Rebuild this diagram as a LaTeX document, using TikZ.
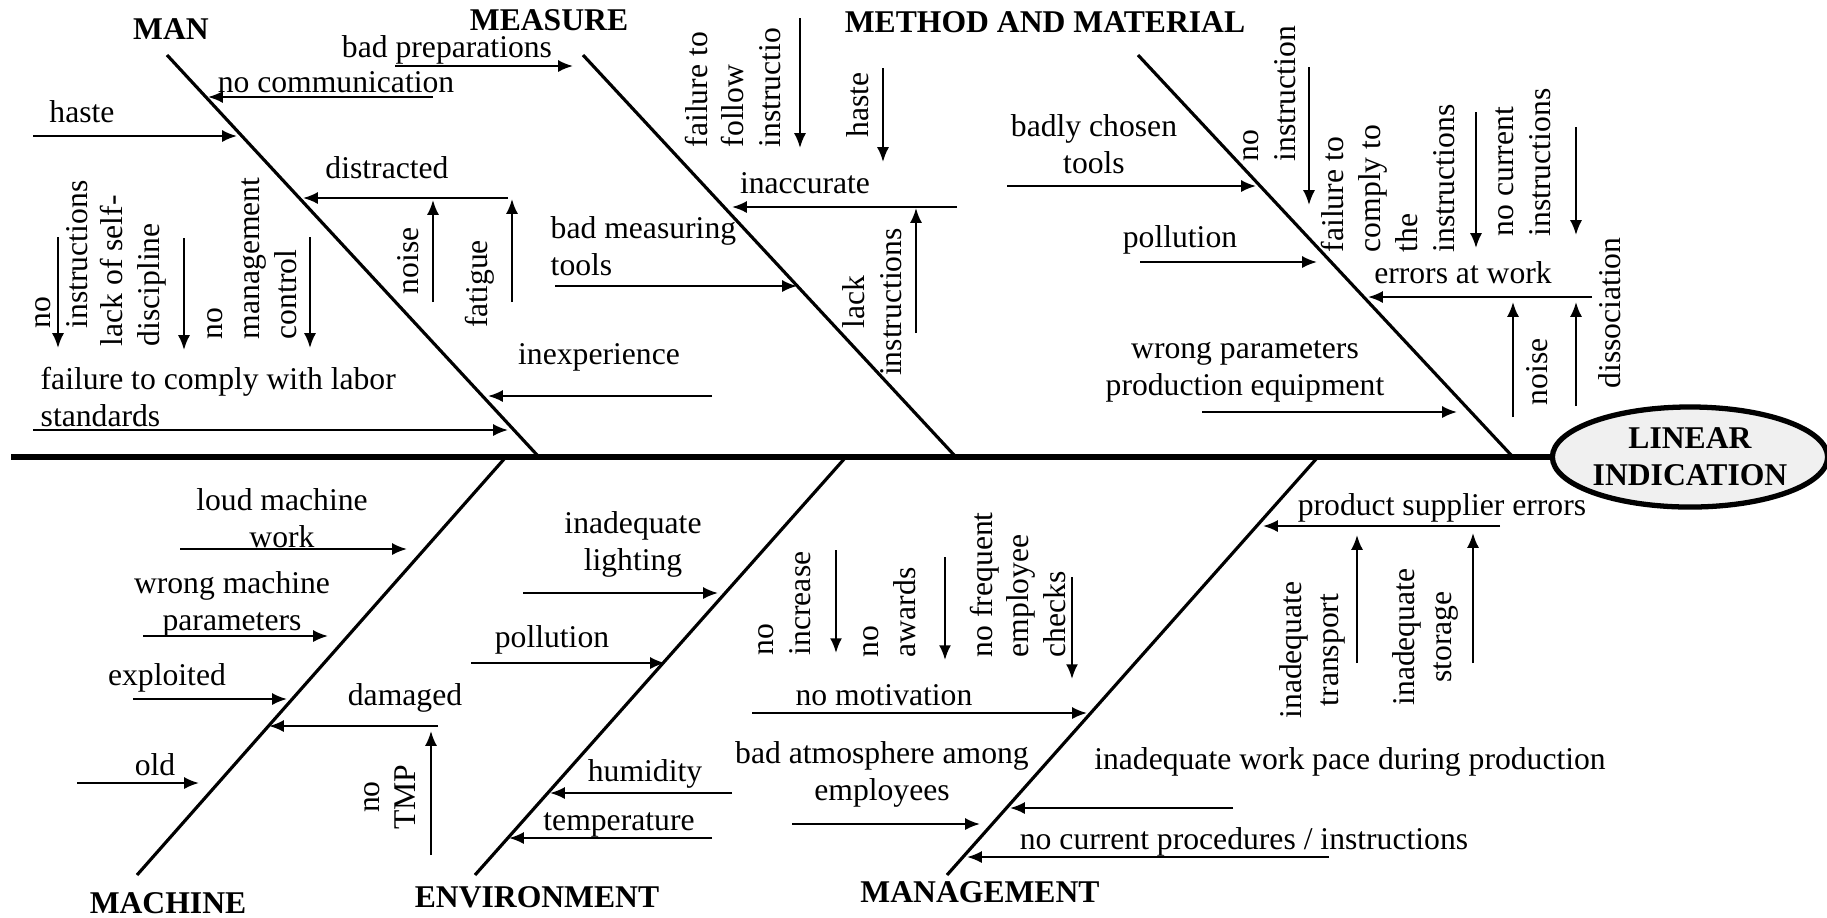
\documentclass[tikz,border=0pt]{standalone}
\usepackage{fontspec}
\setmainfont{Liberation Serif}
\usetikzlibrary{arrows.meta,shapes.geometric}
\definecolor{ellfill}{HTML}{F0F0F0}
\newcommand\fbarr[3]{\coordinate (#1s) at (#2); \coordinate (#1e) at (#3); \draw[arr] (#1s) -- (#1e);}
\begin{document}
\begin{tikzpicture}[x=0.01cm,y=-0.01cm,
  lbl/.style={inner sep=0pt, font=\fontsize{9}{10.5}\selectfont},
  ctr/.style={lbl, align=center},
  lft/.style={lbl, align=left, anchor=west},
  vl/.style={lbl, align=left, rotate=90, anchor=west},
  vc/.style={lbl, align=center, rotate=90},
  head/.style={inner sep=0pt, font=\fontsize{9}{10.5}\selectfont\bfseries},
  arr/.style={line width=0.6pt, -{Latex[length=4.2pt,width=3.4pt]}},
  bone/.style={line width=0.9pt},
  spine/.style={line width=1.5pt}]
\useasboundingbox (0,0) rectangle (1827,917);

% effect
\node[ellipse, draw, line width=1.5pt, fill=ellfill, minimum width=2.65cm, minimum height=1.0cm,
      inner sep=0pt, align=center, font=\fontsize{9}{10.5}\selectfont\bfseries] (lin) at (1690,457) {LINEAR\\INDICATION};
\coordinate (spL) at (11,457);
\draw[spine] (spL) -- (lin.west);

% bones
\coordinate (manT) at (167,55);   \coordinate (manB) at (538,456);
\coordinate (meaT) at (583,55);   \coordinate (meaB) at (955,456);
\coordinate (mmT) at (1138,55);   \coordinate (mmB) at (1512,456);
\coordinate (macB) at (137,875);  \coordinate (macT) at (505,458);
\coordinate (envB) at (475,875);  \coordinate (envT) at (845,458);
\coordinate (mgtB) at (947,875);  \coordinate (mgtT) at (1317,458);
\draw[bone] (manT) -- (manB);
\draw[bone] (meaT) -- (meaB);
\draw[bone] (mmT) -- (mmB);
\draw[bone] (macB) -- (macT);
\draw[bone] (envB) -- (envT);
\draw[bone] (mgtB) -- (mgtT);

% heads
\node[head] (hman) at (171,29) {MAN};
\node[head] (hmea) at (549,20) {MEASURE};
\node[head] (hmm) at (1045,22) {METHOD AND MATERIAL};
\node[head] (hmac) at (168,903) {MACHINE};
\node[head] (henv) at (537,897) {ENVIRONMENT};
\node[head] (hmgt) at (980,892) {MANAGEMENT};

% MAN
\node[lbl] (t1) at (82,112) {haste};
\fbarr{a1}{33,136}{237,136}
\node[lbl] (t2) at (336,82) {no communication};
\fbarr{a2}{433,97}{208,97}
\node[lbl] (t3) at (447,50) {bad preparations};
\fbarr{a3}{395,66}{573,66}
\node[lbl] (t4) at (387,168) {distracted};
\fbarr{a4}{508,198}{303,198}
\node[vc] (t5) at (408,261) {noise};
\fbarr{a5}{433,302}{433,200}
\node[vc] (t6) at (480,284) {fatigue};
\fbarr{a6}{512,302}{512,199}
\node[vl] (t7) at (62,329) {no\\instructions};
\fbarr{a7}{58,237}{58,348}
\node[vl] (t8) at (133,347) {lack of self-\\discipline};
\fbarr{a8}{184,238}{184,350}
\node[vl] (t9) at (252,340) {no\\management\\control};
\fbarr{a9}{310,237}{310,348}
\node[lft] (t10) at (40,397) {failure to comply with labor\\standards};
\fbarr{a10}{33,430}{508,430}
\node[lbl] (t11) at (599,357) {inexperience};
\fbarr{a11}{712,396}{488,396}

% MEASURE
\node[vl] (t12) at (733,148) {failure to\\follow\\instructio};
\fbarr{a12}{800,18}{800,148}
\node[vc] (t13) at (858,105) {haste};
\fbarr{a13}{883,68}{883,162}
\node[lbl] (t14) at (805,183) {inaccurate};
\fbarr{a14}{957,207}{732,207}
\node[vc] (t15) at (872,302) {lack\\instructions};
\fbarr{a15}{916,333}{916,208}
\node[lft] (t16) at (550,246) {bad measuring\\tools};
\fbarr{a16}{555,286}{797,286}

% METHOD AND MATERIAL
\node[ctr] (t17) at (1094,144) {badly chosen\\tools};
\fbarr{a17}{1007,186}{1256,186}
\node[vl] (t18) at (1270,162) {no\\instruction};
\fbarr{a18}{1309,67}{1309,205}
\node[vl] (t19) at (1388,253) {failure to\\comply to\\the\\instructions};
\fbarr{a19}{1476,112}{1476,248}
\node[vl] (t20) at (1523,237) {no current\\instructions};
\fbarr{a20}{1576,127}{1576,235}
\node[lbl] (t21) at (1463,273) {errors at work};
\fbarr{a21}{1592,297}{1368,297}
\node[vc] (t22) at (1537,372) {noise};
\fbarr{a22}{1513,417}{1513,302}
\node[vc] (t23) at (1610,313) {dissociation};
\fbarr{a23}{1576,406}{1576,302}
\node[lbl] (t24) at (1180,240) {pollution};
\fbarr{a24}{1140,262}{1317,262}
\node[ctr] (t25) at (1245,371) {wrong parameters\\production equipment};
\fbarr{a25}{1202,412}{1457,412}

% MACHINE
\node[ctr] (t26) at (282,518) {loud machine\\work};
\fbarr{a26}{180,549}{407,549}
\node[ctr] (t27) at (232,604) {wrong machine\\parameters};
\fbarr{a27}{143,636}{328,636}
\node[lbl] (t28) at (167,678) {exploited};
\fbarr{a28}{133,699}{287,699}
\node[lbl] (t29) at (405,698) {damaged};
\fbarr{a29}{438,726}{269,726}
\node[vc] (t30) at (390,797) {no\\TMP};
\fbarr{a30}{431,855}{431,731}
\node[lbl] (t31) at (155,765) {old};
\fbarr{a31}{77,783}{199,783}

% ENVIRONMENT
\node[ctr] (t32) at (633,544) {inadequate\\lighting};
\fbarr{a32}{523,593}{718,593}
\node[lbl] (t33) at (552,640) {pollution};
\fbarr{a33}{471,663}{665,663}
\node[lbl] (t34) at (645,774) {humidity};
\fbarr{a34}{732,793}{550,793}
\node[lbl] (t35) at (619,825) {temperature};
\fbarr{a35}{712,838}{509,838}

% MANAGEMENT
\node[vl] (t36) at (785,656) {no\\increase};
\fbarr{a36}{836,550}{836,653}
\node[vl] (t37) at (890,658) {no\\awards};
\fbarr{a37}{945,557}{945,660}
\node[vl] (t38) at (1018,658) {no frequent\\employee\\checks};
\fbarr{a38}{1072,577}{1072,679}
\node[lbl] (t39) at (884,695) {no motivation};
\fbarr{a39}{752,713}{1087,713}
\node[ctr] (t40) at (882,774) {bad atmosphere among\\employees};
\fbarr{a40}{792,824}{980,824}
\node[lbl] (t41) at (1350,762) {inadequate work pace during production};
\fbarr{a41}{1233,808}{1010,808}
\node[lbl] (t42) at (1244,842) {no current procedures / instructions};
\fbarr{a42}{1329,857}{967,857}
\node[lbl] (t43) at (1442,508) {product supplier errors};
\fbarr{a43}{1500,526}{1263,526}
\node[vc] (t44) at (1312,650) {inadequate\\transport};
\fbarr{a44}{1357,663}{1357,535}
\node[vc] (t45) at (1425,637) {inadequate\\storage};
\fbarr{a45}{1473,663}{1473,533}
\end{tikzpicture}
\end{document}
